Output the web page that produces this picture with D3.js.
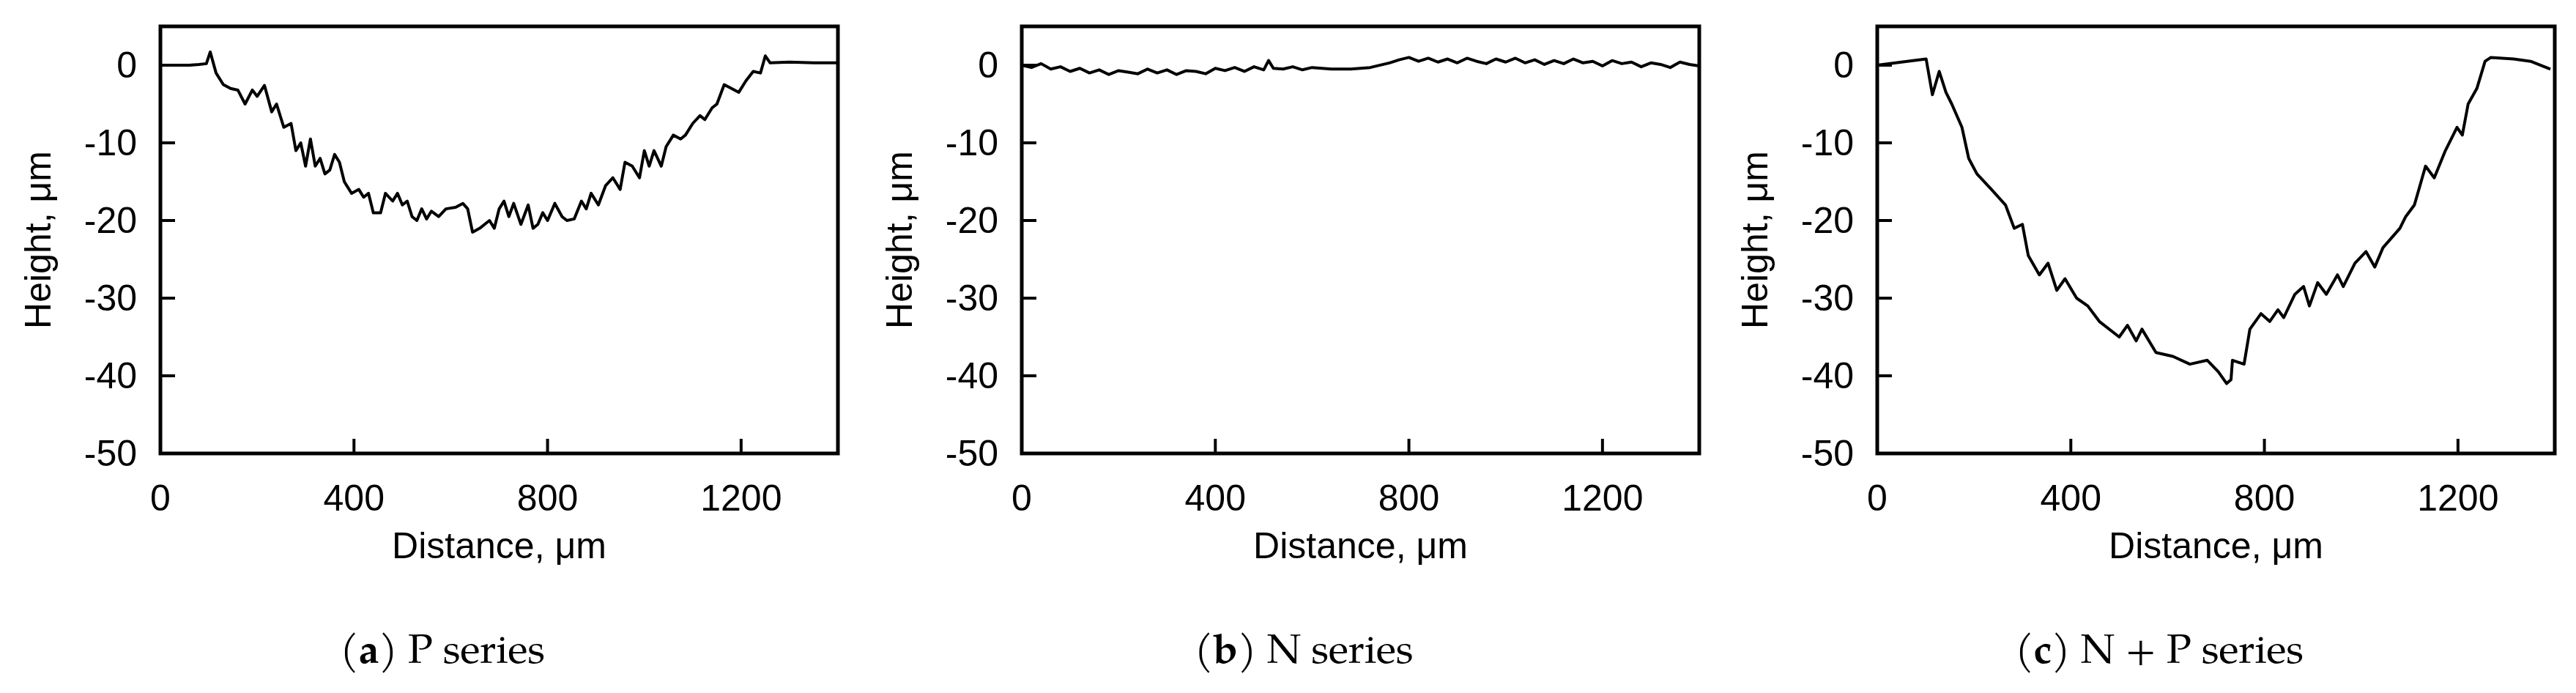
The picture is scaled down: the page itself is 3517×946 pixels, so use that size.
<!DOCTYPE html>
<html><head><meta charset="utf-8">
<script src="https://cdn.jsdelivr.net/npm/d3@7"></script>
<style>body{margin:0;background:#fff}</style>
</head><body>
<svg id="chart" width="3517" height="946"></svg>
<script>
const xTicks = [0, 400, 800, 1200];
const yTicks = [0, -10, -20, -30, -40, -50];

const distP = [0,20,40,60,80,95,103,115,130,145,160,175,190,200,215,230,240,255,270,280,290,300,310,320,330,340,350,360,370,380,395,410,420,430,440,455,465,480,490,500,510,520,530,540,550,560,575,590,610,625,635,645,660,670,680,690,700,710,720,730,745,760,770,780,790,800,815,830,840,855,870,880,890,905,920,935,950,960,975,990,1000,1010,1020,1035,1045,1060,1075,1085,1100,1115,1125,1140,1150,1165,1180,1195,1210,1225,1240,1250,1260,1300,1350,1400];
const heightP = [0,0,0,0,0.1,0.2,1.7,-1,-2.5,-3,-3.2,-5,-3.2,-4,-2.6,-6,-5,-8,-7.5,-11,-10,-13,-9.5,-13,-12,-14,-13.5,-11.5,-12.5,-15,-16.5,-16,-17,-16.5,-19,-19,-16.5,-17.5,-16.5,-18,-17.5,-19.5,-20,-18.5,-19.8,-18.8,-19.5,-18.5,-18.3,-17.8,-18.5,-21.5,-21,-20.5,-20,-21,-18.5,-17.5,-19.5,-17.8,-20.5,-18,-21,-20.5,-19,-20,-17.8,-19.5,-20,-19.8,-17.5,-18.5,-16.5,-18,-15.5,-14.5,-16,-12.5,-13,-14.5,-11,-13,-11,-13,-10.5,-9,-9.5,-9,-7.5,-6.5,-7,-5.5,-5,-2.5,-3,-3.5,-2,-0.8,-1,1.2,0.3,0.4,0.3,0.3];

const distN = [0,20,40,60,80,100,120,140,160,180,200,220,240,260,280,300,320,340,360,380,400,420,440,460,480,500,510,520,540,560,580,600,640,680,720,760,780,800,820,840,860,880,900,920,940,960,980,1000,1020,1040,1060,1080,1100,1120,1140,1160,1180,1200,1220,1240,1260,1280,1300,1320,1340,1360,1380,1400];
const heightN = [0,-0.3,0.2,-0.5,-0.2,-0.8,-0.4,-1,-0.6,-1.2,-0.7,-0.9,-1.1,-0.5,-1,-0.6,-1.2,-0.7,-0.8,-1.1,-0.4,-0.7,-0.3,-0.8,-0.2,-0.6,0.6,-0.4,-0.5,-0.2,-0.6,-0.3,-0.5,-0.5,-0.3,0.3,0.7,1,0.5,0.9,0.4,0.8,0.3,0.9,0.5,0.2,0.8,0.4,0.9,0.3,0.7,0.1,0.6,0.2,0.8,0.3,0.5,-0.1,0.6,0.2,0.4,-0.2,0.3,0.1,-0.3,0.4,0.1,-0.1];

const distNP = [0,50,101,114,128,142,154,175,189,206,236,265,283,300,312,335,353,371,388,412,435,459,500,517,535,547,576,611,646,682,705,722,731,734,758,770,793,811,828,840,863,881,893,910,928,951,963,987,1010,1028,1045,1080,1092,1110,1133,1151,1174,1198,1209,1221,1239,1256,1268,1315,1350,1391];
const heightNP = [0,0.4,0.8,-3.8,-0.8,-3.5,-5,-8,-12,-14,-16,-18,-21,-20.5,-24.5,-27,-25.5,-29,-27.5,-30,-31,-33,-35,-33.5,-35.5,-34,-37,-37.5,-38.5,-38,-39.5,-41,-40.5,-38,-38.5,-34,-32,-33,-31.5,-32.5,-29.5,-28.5,-31,-28,-29.5,-27,-28.5,-25.5,-24,-26,-23.5,-21,-19.5,-18,-13,-14.5,-11,-8,-9,-5,-3,0.5,1,0.8,0.5,-0.5];

const panels = [
  {left: 219, dist: distP, h: heightP, letter: "a", label: " P series"},
  {left: 1395, dist: distN, h: heightN, letter: "b", label: " N series"},
  {left: 2563, dist: distNP, h: heightNP, letter: "c", label: " N + P series"}
];

const svg = d3.select("#chart");
const W = 925, plotTop = 36, plotBottom = 619;
const sans = "'Liberation Sans Narrow','Liberation Sans',Arial,sans-serif";
const serif = "'Palatino Linotype','TeX Gyre Pagella','DejaVu Serif','Liberation Serif',serif";

panels.forEach(p => {
  const x = d3.scaleLinear().domain([0, 1400]).range([p.left, p.left + W]);
  const y = d3.scaleLinear().domain([-50, 5]).range([plotBottom, plotTop]);
  const g = svg.append("g");

  const line = d3.line().x((d, i) => x(p.dist[i])).y(d => y(d));
  g.append("path").datum(p.h)
    .attr("fill", "none").attr("stroke", "#000").attr("stroke-width", 4)
    .attr("stroke-linejoin", "round").attr("d", line);

  // inner ticks
  yTicks.slice(0, 5).forEach(t => {
    g.append("line").attr("x1", x(0)).attr("x2", x(0) + 20)
      .attr("y1", y(t)).attr("y2", y(t)).attr("stroke", "#000").attr("stroke-width", 4);
  });
  xTicks.slice(1).forEach(t => {
    g.append("line").attr("x1", x(t)).attr("x2", x(t))
      .attr("y1", plotBottom).attr("y2", plotBottom - 20).attr("stroke", "#000").attr("stroke-width", 4);
  });

  g.append("rect").attr("x", p.left).attr("y", plotTop).attr("width", W).attr("height", plotBottom - plotTop)
    .attr("fill", "none").attr("stroke", "#000").attr("stroke-width", 5);

  yTicks.forEach(t => {
    g.append("text").attr("x", p.left - 32).attr("y", y(t) + 17)
      .attr("text-anchor", "end").attr("font-family", sans).attr("font-size", 50)
      .text(t);
  });
  xTicks.forEach(t => {
    g.append("text").attr("x", x(t)).attr("y", 697)
      .attr("text-anchor", "middle").attr("font-family", sans).attr("font-size", 50)
      .text(t);
  });
  g.append("text").attr("x", p.left + W / 2).attr("y", 762)
    .attr("text-anchor", "middle").attr("font-family", sans).attr("font-size", 50)
    .text("Distance, μm");
  g.append("text").attr("transform", `translate(${p.left - 150},${(plotTop + plotBottom) / 2}) rotate(-90)`)
    .attr("text-anchor", "middle").attr("font-family", sans).attr("font-size", 50)
    .text("Height, μm");

  const cap = g.append("text").attr("x", p.left + 385).attr("y", 905)
    .attr("text-anchor", "middle").attr("font-family", serif).attr("font-size", 56);
  cap.append("tspan").text("(");
  cap.append("tspan").attr("font-weight", "bold").text(p.letter);
  cap.append("tspan").text(")" + p.label);
});
</script>
</body></html>
